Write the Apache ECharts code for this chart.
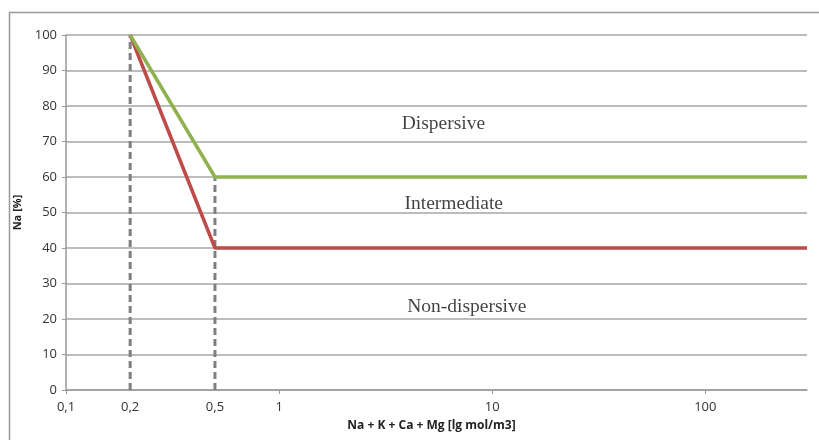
<!DOCTYPE html>
<html>
<head>
<meta charset="utf-8">
<script src="https://cdn.jsdelivr.net/npm/echarts@6/dist/echarts.min.js"></script>
<style>
  html, body { margin: 0; padding: 0; background: #fff; }
  #chart { width: 819px; height: 440px; }
</style>
</head>
<body>
<div id="chart"></div>
<script>
// boundary lines (x on log scale, y = Na %)
const upperX = [0.2, 0.5, 300]
const upperY = [100, 60, 60]
const lowerX = [0.2, 0.5, 300]
const lowerY = [100, 40, 40]

// dashed reference verticals
const guideX = [0.2, 0.5]
const guideTop = [100, 60]

// zone labels
const zoneText = ['Dispersive', 'Intermediate', 'Non-dispersive']
const zoneX = [5.9, 6.6, 7.6]
const zoneY = [75, 52.5, 23.5]

const xTicks = [0.1, 0.2, 0.5, 1, 10, 100]

const chart = echarts.init(document.getElementById('chart'))

const pairs = (xs, ys) => xs.map((x, i) => [x, ys[i]])

const guideSeries = guideX.map((x, i) => ({
  type: 'line',
  data: [[x, 0], [x, guideTop[i]]],
  symbol: 'none',
  silent: true,
  z: 2,
  lineStyle: { color: '#7f7f7f', width: 3, type: [7, 4] },
}))

chart.setOption({
  animation: false,
  grid: { left: 66, right: 12, top: 35, bottom: 50 },
  graphic: [{
    type: 'rect',
    shape: { x: 9.5, y: 12.5, width: 830, height: 450 },
    style: { fill: 'none', stroke: '#999', lineWidth: 1.5 },
    silent: true,
  }],
  xAxis: {
    type: 'log',
    logBase: 10,
    min: 0.1,
    max: 300,
    name: 'Na + K + Ca + Mg [lg mol/m3]',
    nameLocation: 'middle',
    nameGap: 30,
    nameTextStyle: { fontFamily: 'Open Sans', fontWeight: 'bold', fontSize: 12, color: '#222', padding: [0, 10, 0, 0] },
    axisLine: { lineStyle: { color: '#999', width: 1.5 } },
    axisTick: { show: true, length: 4, lineStyle: { color: '#999' }, customValues: [0.1, 1, 10, 100] },
    axisLabel: {
      customValues: xTicks,
      fontFamily: 'Open Sans',
      fontSize: 13,
      color: '#333',
      margin: 11,
      formatter: (v) => String(Math.round(v * 10) / 10).replace('.', ','),
    },
    splitLine: { show: false },
  },
  yAxis: {
    type: 'value',
    min: 0,
    max: 100,
    interval: 10,
    name: 'Na [%]',
    nameLocation: 'middle',
    nameRotate: 90,
    nameGap: 42,
    nameTextStyle: { fontFamily: 'Open Sans', fontWeight: 'bold', fontSize: 11, color: '#222' },
    axisLine: { show: true, lineStyle: { color: '#999', width: 1.5 } },
    axisTick: { show: true, length: 4, lineStyle: { color: '#999' } },
    axisLabel: { fontFamily: 'Open Sans', fontSize: 13, color: '#333', margin: 9 },
    splitLine: { lineStyle: { color: '#a6a6a6', width: 1.5 } },
  },
  series: [
    ...guideSeries,
    {
      type: 'line',
      data: pairs(lowerX, lowerY),
      symbol: 'none',
      z: 3,
      lineStyle: { color: '#be4b48', width: 3.5 },
    },
    {
      type: 'line',
      data: pairs(upperX, upperY),
      symbol: 'none',
      z: 4,
      lineStyle: { color: '#8fb24f', width: 3.5 },
    },
    {
      type: 'scatter',
      symbol: 'circle',
      symbolSize: 0,
      silent: true,
      z: 5,
      data: zoneX.map((x, i) => ({ value: [x, zoneY[i]], name: zoneText[i] })),
      label: {
        show: true,
        position: 'inside',
        formatter: (p) => p.name,
        fontFamily: 'Liberation Serif',
        fontSize: 19.5,
        color: '#111',
      },
    },
  ],
})
</script>
</body>
</html>
